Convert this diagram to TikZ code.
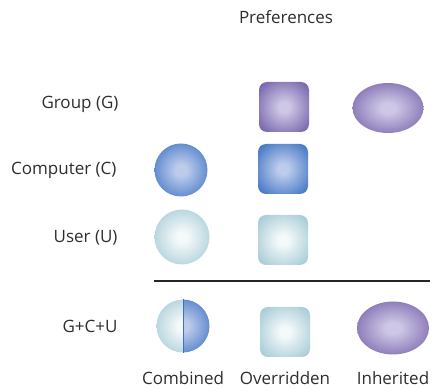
\documentclass[tikz,border=0pt]{standalone}
\usepackage{fontspec}
\setmainfont{Open Sans}
\usetikzlibrary{shapes.geometric}

\definecolor{grpin}{RGB}{206,200,230}
\definecolor{grpout}{RGB}{114,94,168}
\definecolor{compin}{RGB}{190,204,236}
\definecolor{compout}{RGB}{60,114,194}
\definecolor{usrin}{RGB}{244,249,250}
\definecolor{usrout}{RGB}{162,200,212}

\pgfdeclareradialshading{grpshade}{\pgfpoint{0bp}{0bp}}{color(0bp)=(grpin); color(5bp)=(grpin); color(34bp)=(grpout); color(50bp)=(grpout)}
\pgfdeclareradialshading{compshade}{\pgfpoint{0bp}{0bp}}{color(0bp)=(compin); color(5bp)=(compin); color(34bp)=(compout); color(50bp)=(compout)}
\pgfdeclareradialshading{usrshade}{\pgfpoint{0bp}{0bp}}{color(0bp)=(usrin); color(5bp)=(usrin); color(34bp)=(usrout); color(50bp)=(usrout)}

\tikzset{
  lbl/.style={font=\fontsize{17}{20}\selectfont, text=black!82},
  sqbox/.style={rectangle, rounded corners=8pt, minimum size=50pt, inner sep=0pt},
  ball/.style={circle, minimum size=53pt, inner sep=0pt},
  oval/.style={ellipse, minimum width=71pt, minimum height=50pt, inner sep=0pt},
}

\begin{document}
\begin{tikzpicture}[x=1pt, y=-1pt]
  \useasboundingbox (0,0) rectangle (432,390);

  % heading and row labels
  \node[lbl] (prefs) at (286,17) {Preferences};
  \node[lbl, anchor=east] (grp) at (122,104) {Group (G)};
  \node[lbl, anchor=east] (comp) at (120,170) {Computer (C)};
  \node[lbl, anchor=east] (usr) at (121,238) {User (U)};
  \node[lbl, anchor=east] (gcu) at (121,326) {G+C+U};

  % group row
  \node[sqbox, shading=grpshade] (grpsq) at (284,107) {};
  \node[oval, shading=grpshade] (grpov) at (388,108) {};

  % computer row
  \node[ball, shading=compshade] (compball) at (181,170) {};
  \node[sqbox, shading=compshade] (compsq) at (283,169) {};

  % user row
  \node[ball, minimum size=55pt, shading=usrshade] (usrball) at (182,237) {};
  \node[sqbox, shading=usrshade] (usrsq) at (283,240) {};

  % separator
  \coordinate (sepl) at (154,281);
  \coordinate (sepr) at (430,281);
  \draw[line width=1.6pt, black!85] (sepl) -- (sepr);

  % result row
  \node[ball] (comb) at (183,326) {};
  \begin{scope}
    \clip ([xshift=-30pt]comb.north) rectangle (comb.south);
    \shade[shading=usrshade] (comb.center) circle[radius=26.5];
  \end{scope}
  \begin{scope}
    \clip ([xshift=30pt]comb.north) rectangle (comb.south);
    \shade[shading=compshade] (comb.center) circle[radius=26.5];
  \end{scope}
  \draw[compout, line width=0.8pt] (comb.north) -- (comb.south);
  \node[sqbox, shading=usrshade] (ovrsq) at (285,332) {};
  \node[oval, minimum width=72pt, minimum height=53pt, shading=grpshade] (inhov) at (393,328) {};

  % captions
  \node[lbl] (combtxt) at (183,378) {Combined};
  \node[lbl] (ovrtxt) at (285,378) {Overridden};
  \node[lbl] (inhtxt) at (393,378) {Inherited};
\end{tikzpicture}
\end{document}
